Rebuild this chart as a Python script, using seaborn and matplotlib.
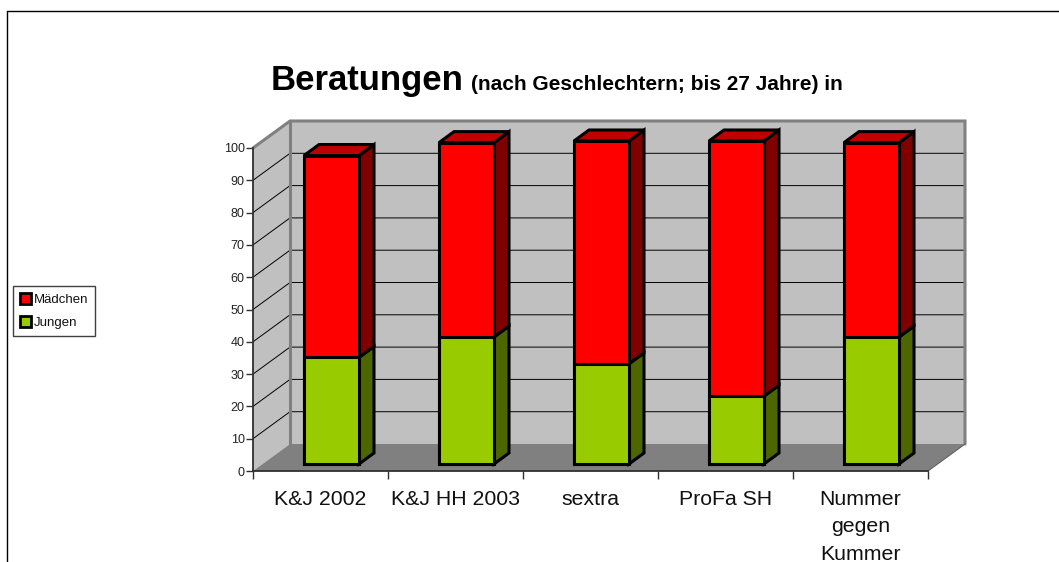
import matplotlib

matplotlib.use("Agg")
import matplotlib.pyplot as plt
import numpy as np
import pandas as pd
import seaborn as sns
from matplotlib.lines import Line2D
from matplotlib.patches import Patch, Polygon

categories = ["K&J 2002", "K&J HH 2003", "sextra", "ProFa SH", "Nummer\ngegen\nKummer"]
jungen = [33, 39.3, 31, 21, 39.3]
maedchen = [62.5, 60.2, 69, 79, 60.2]
y_ticks = list(range(0, 101, 10))

W, H = 1059, 562
RED, RED_TOP, RED_SIDE = "#ff0000", "#c00000", "#800000"
GREEN, GREEN_SIDE = "#99cc00", "#4d6600"
WALL, FLOOR = "#c0c0c0", "#808080"

sns.set_style("white")
plt.rcParams["font.family"] = ["Liberation Sans", "DejaVu Sans"]


def px_axes(fig, left, right, top, bottom):
    return fig.add_axes([left / W, 1 - bottom / H, (right - left) / W, (bottom - top) / H])


fig = plt.figure(figsize=(W / 100, H / 100), dpi=100, facecolor="white")

# outer chart border, only top and left are visible in the crop
fig.add_artist(Line2D([7 / W, 7 / W], [0, 1 - 11 / H], color="black", lw=1.0))
fig.add_artist(Line2D([7 / W, 1], [1 - 11 / H, 1 - 11 / H], color="black", lw=1.0))

ax = px_axes(fig, 253, 928, 148, 471)
ax.set_xlim(-0.5, 4.5)
ax.set_ylim(0, 100)
ax.patch.set_alpha(0)

# depth of the fake 3d box in data units
dx = 37 / 135
dy = 27 / 3.23
x0, x1 = -0.5, 4.5
ax.add_patch(Polygon([(x0 + dx, dy), (x1 + dx, dy), (x1 + dx, 100 + dy), (x0 + dx, 100 + dy)],
                     fc=WALL, ec="none", clip_on=False, zorder=0))
ax.add_patch(Polygon([(x0, 0), (x0 + dx, dy), (x0 + dx, 100 + dy), (x0, 100)],
                     fc=WALL, ec="none", clip_on=False, zorder=0))
ax.add_patch(Polygon([(x0, 0), (x1, 0), (x1 + dx, dy), (x0 + dx, dy)],
                     fc=FLOOR, ec="none", clip_on=False, zorder=1))
for t in y_ticks[1:-1]:
    ax.plot([x0, x0 + dx, x1 + dx], [t, t + dy, t + dy], color="black", lw=0.7, clip_on=False, zorder=1)
edge = dict(color=FLOOR, lw=2.2, clip_on=False, zorder=2, solid_joinstyle="miter")
ax.plot([x0, x0 + dx, x1 + dx, x1 + dx], [100, 100 + dy, 100 + dy, dy], **edge)
ax.plot([x0 + dx, x0 + dx], [dy, 100 + dy], **edge)
ax.plot([x1, x1 + dx], [0, dy], color="#606060", lw=0.8, clip_on=False, zorder=2)

sns.despine(ax=ax, top=True, right=True)
for side in ["left", "bottom"]:
    ax.spines[side].set_color("#303030")
    ax.spines[side].set_linewidth(1.3)
ax.set_yticks(y_ticks)
ax.set_xticks(np.arange(x0, x1 + 1))
ax.set_xticklabels([])
ax.set_xticks(np.arange(5), labels=categories, minor=True)
ax.tick_params(axis="y", length=5, width=1.0, color="#303030", labelsize=9, labelcolor="#222222", pad=1, left=True)
ax.tick_params(axis="x", which="major", length=6, width=1.0, color="#303030", bottom=True)
ax.tick_params(axis="x", which="minor", length=0, labelsize=15.3, pad=13.5, labelcolor="#111111", bottom=False)
for label in ax.get_xticklabels(minor=True):
    label.set_linespacing(1.57)
    label.set_verticalalignment("top")

# bars stand inside the box, so they get their own axes shifted into the depth
bars = px_axes(fig, 264, 939, 141, 464)
bars.patch.set_alpha(0)
df = pd.DataFrame({"name": categories, "Jungen": jungen, "Mädchen": maedchen})
df["total"] = df["Jungen"] + df["Mädchen"]
bar_w = 55 / 135
bar_style = dict(width=bar_w, edgecolor="black", linewidth=2.2, saturation=1, ax=bars, zorder=3)
sns.barplot(data=df, x="name", y="total", color=RED, clip_on=False, **bar_style)
sns.barplot(data=df, x="name", y="Jungen", color=GREEN, clip_on=False, **bar_style)
bars.set_xlim(-0.5, 4.5)
bars.set_ylim(0, 100)
bars.axis("off")

ddx = 15 / 135
ddy = 11 / 3.23
for i, (low, top) in enumerate(zip(df["Jungen"], df["total"])):
    l, r = i - bar_w / 2, i + bar_w / 2
    faces = [
        ([(r, 0), (r + ddx, ddy), (r + ddx, low + ddy), (r, low)], GREEN_SIDE),
        ([(r, low), (r + ddx, low + ddy), (r + ddx, top + ddy), (r, top)], RED_SIDE),
        ([(l, top), (l + ddx, top + ddy), (r + ddx, top + ddy), (r, top)], RED_TOP),
    ]
    for pts, col in faces:
        bars.add_patch(Polygon(pts, fc=col, ec="black", lw=2.2, clip_on=False, zorder=2, joinstyle="miter"))

fig.text(271 / W, 1 - 90 / H, "Beratungen", fontsize=25, fontweight="bold", color="black", va="baseline")
fig.text(471 / W, 1 - 90 / H, "(nach Geschlechtern; bis 27 Jahre) in", fontsize=15, fontweight="bold",
         color="black", va="baseline")

handles = [Patch(fc=RED, ec="black", lw=2, label="Mädchen"), Patch(fc=GREEN, ec="black", lw=2, label="Jungen")]
fig.legend(handles=handles, loc="upper left", bbox_to_anchor=(13 / W, 1 - 286 / H), fontsize=9.5, frameon=True,
           fancybox=False, edgecolor="#404040", framealpha=1, handlelength=0.85, handleheight=0.85,
           handletextpad=0.15, borderpad=0.55, labelspacing=0.75, borderaxespad=0, labelcolor="#111111")

fig.savefig("out.png", dpi=100)
